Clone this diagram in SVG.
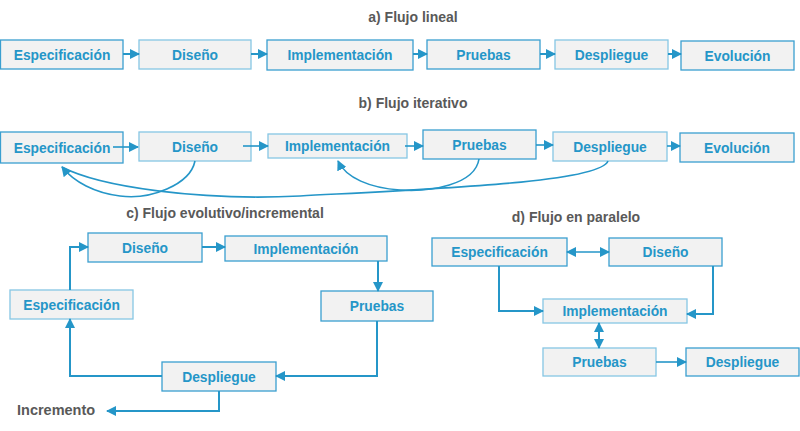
<svg xmlns="http://www.w3.org/2000/svg" width="800" height="431" viewBox="0 0 800 431">
<style>
.bg{fill:#ffffff}
.box rect{fill:#f2f2f2;stroke:#3a9fd0;stroke-width:1.3}
.box.l rect{stroke:#86c6e4}
.box text{font-family:"Liberation Sans",Arial,sans-serif;font-weight:bold;font-size:13.8px;fill:#2596c8;text-anchor:middle}
.title{font-family:"Liberation Sans",Arial,sans-serif;font-weight:bold;font-size:14px;fill:#595959;text-anchor:middle}
.plain{font-family:"Liberation Sans",Arial,sans-serif;font-weight:bold;font-size:14.5px;fill:#595959}
#connectors path{fill:none;stroke:#2596c8;stroke-width:2}
#connectors path.thin{stroke-width:1.6}
</style>
<defs>
<marker id="ah" viewBox="0 0 10 10" refX="9" refY="5" markerWidth="10" markerHeight="10" markerUnits="userSpaceOnUse" orient="auto-start-reverse">
<path d="M0,0 L10,5 L0,10 z" fill="#2596c8"/>
</marker>
</defs>
<rect class="bg" x="0" y="0" width="800" height="431"/>

<text class="title" x="413" y="22">a) Flujo lineal</text>
<text class="title" x="413" y="108">b) Flujo iterativo</text>
<text class="title" x="225" y="218">c) Flujo evolutivo/incremental</text>
<text class="title" x="576" y="222">d) Flujo en paralelo</text>
<text class="plain" x="17" y="415">Incremento</text>

<!-- a) -->
<g id="a-especificacion" class="box"><rect x="0.5" y="40" width="122.5" height="29"/><text x="62" y="59.5">Especificación</text></g>
<g id="a-diseno" class="box l"><rect x="139" y="40" width="112" height="29"/><text x="195" y="59.5">Diseño</text></g>
<g id="a-implementacion" class="box"><rect x="267" y="40" width="146" height="30"/><text x="340" y="60">Implementación</text></g>
<g id="a-pruebas" class="box"><rect x="427" y="40" width="113" height="29"/><text x="483.5" y="59.5">Pruebas</text></g>
<g id="a-despliegue" class="box l"><rect x="555" y="40" width="113" height="29"/><text x="611.5" y="59.5">Despliegue</text></g>
<g id="a-evolucion" class="box"><rect x="681" y="41" width="113" height="29"/><text x="737.5" y="60.5">Evolución</text></g>

<!-- b) -->
<g id="b-especificacion" class="box"><rect x="0.5" y="132" width="122.5" height="31"/><text x="62" y="152.5">Especificación</text></g>
<g id="b-diseno" class="box l"><rect x="139" y="132" width="112" height="29"/><text x="195" y="151.5">Diseño</text></g>
<g id="b-implementacion" class="box l"><rect x="268" y="134" width="139" height="24"/><text x="337.5" y="151">Implementación</text></g>
<g id="b-pruebas" class="box"><rect x="423" y="130" width="113" height="29"/><text x="479.5" y="149.5">Pruebas</text></g>
<g id="b-despliegue" class="box l"><rect x="553" y="132" width="114" height="29"/><text x="610" y="151.5">Despliegue</text></g>
<g id="b-evolucion" class="box"><rect x="680" y="133" width="114" height="29"/><text x="737" y="152.5">Evolución</text></g>

<!-- c) -->
<g id="c-diseno" class="box"><rect x="88" y="233" width="114" height="29"/><text x="145" y="252.5">Diseño</text></g>
<g id="c-implementacion" class="box"><rect x="225" y="236" width="162" height="25"/><text x="306" y="253.5">Implementación</text></g>
<g id="c-especificacion" class="box l"><rect x="10" y="290" width="123" height="29"/><text x="71.5" y="309.5">Especificación</text></g>
<g id="c-pruebas" class="box"><rect x="321" y="291" width="112" height="30"/><text x="377" y="311">Pruebas</text></g>
<g id="c-despliegue" class="box"><rect x="162" y="362" width="114" height="29"/><text x="219" y="381.5">Despliegue</text></g>

<!-- d) -->
<g id="d-especificacion" class="box"><rect x="432" y="238" width="135" height="28"/><text x="499.5" y="257">Especificación</text></g>
<g id="d-diseno" class="box"><rect x="609" y="238" width="113" height="28"/><text x="665.5" y="257">Diseño</text></g>
<g id="d-implementacion" class="box l"><rect x="543" y="299" width="144" height="24"/><text x="615" y="316">Implementación</text></g>
<g id="d-pruebas" class="box l"><rect x="543" y="348" width="113" height="28"/><text x="599.5" y="367">Pruebas</text></g>
<g id="d-despliegue" class="box"><rect x="686" y="348" width="113" height="28"/><text x="742.5" y="367">Despliegue</text></g>

<g id="connectors">
<!-- a -->
<path d="M123,54 H139" marker-end="url(#ah)"/>
<path d="M251,54 H267" marker-end="url(#ah)"/>
<path d="M413,54 H427" marker-end="url(#ah)"/>
<path d="M540,54 H555" marker-end="url(#ah)"/>
<path d="M668,54 H681" marker-end="url(#ah)"/>
<!-- b -->
<path class="thin" d="M113,147 H138" marker-end="url(#ah)"/>
<path class="thin" d="M243,146 H268" marker-end="url(#ah)"/>
<path class="thin" d="M405,146 H423" marker-end="url(#ah)"/>
<path class="thin" d="M536,145 H553" marker-end="url(#ah)"/>
<path class="thin" d="M667,146 H680" marker-end="url(#ah)"/>
<path class="thin" d="M195,161 C190,185 150,200 120,196 C95,193 74,182 62,167" marker-end="url(#ah)"/>
<path class="thin" d="M608,161 C600,182 450,188 300,196 C200,201 100,187 62,167"/>
<path class="thin" d="M479,159 C475,185 430,192 400,190 C370,188 346,178 338,161" marker-end="url(#ah)"/>
<!-- c -->
<path d="M70,290 V247 H88" marker-end="url(#ah)"/>
<path d="M202,247 H225" marker-end="url(#ah)"/>
<path d="M378,261 V291" marker-end="url(#ah)"/>
<path d="M377,321 V376 H276" marker-end="url(#ah)"/>
<path d="M162,376 H70 V319" marker-end="url(#ah)"/>
<path d="M219,391 V411 H107" marker-end="url(#ah)"/>
<!-- d -->
<path class="thin" d="M567,252 H609" marker-start="url(#ah)" marker-end="url(#ah)"/>
<path d="M499,266 V311 H543" marker-end="url(#ah)"/>
<path d="M713,266 V314 H687" marker-end="url(#ah)"/>
<path d="M599,323 V348" marker-start="url(#ah)" marker-end="url(#ah)"/>
<path class="thin" d="M656,362 H686" marker-end="url(#ah)"/>
</g>
</svg>
